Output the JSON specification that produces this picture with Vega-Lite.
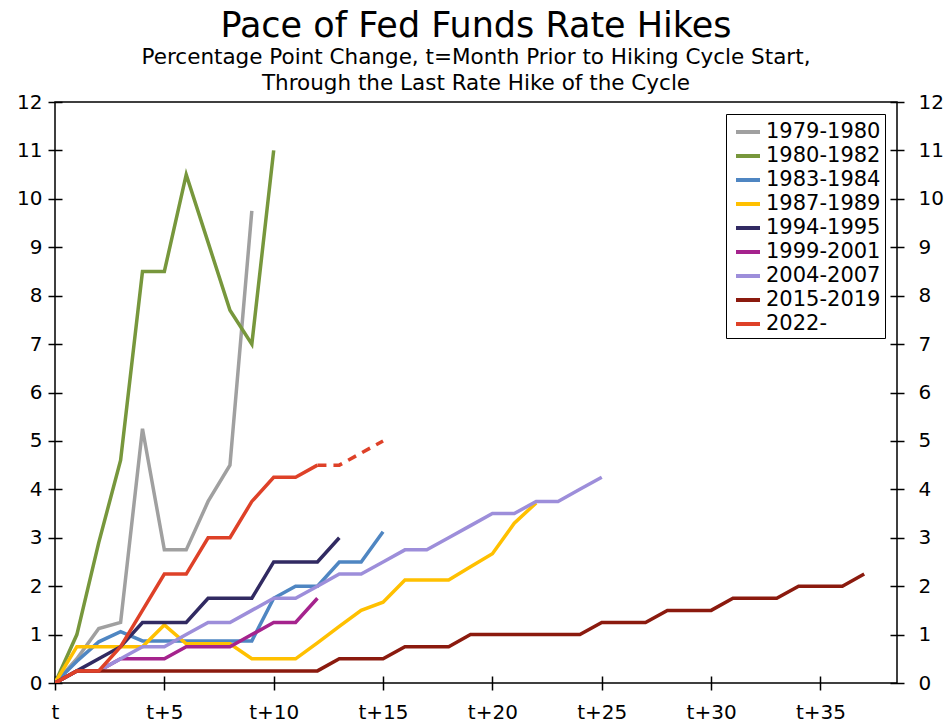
{
  "$schema": "https://vega.github.io/schema/vega-lite/v6.json",
  "width": 842,
  "height": 581,
  "autosize": "none",
  "padding": {"left": 55, "top": 102, "right": 50, "bottom": 43},
  "background": "white",
  "config": {
    "font": "DejaVu Sans",
    "view": {"stroke": "black", "strokeWidth": 1.5}
  },
  "title": {
    "text": "Pace of Fed Funds Rate Hikes",
    "subtitle": ["Percentage Point Change, t=Month Prior to Hiking Cycle Start,", "Through the Last Rate Hike of the Cycle"],
    "fontSize": 35,
    "fontWeight": "normal",
    "font": "DejaVu Sans",
    "subtitleFont": "DejaVu Sans",
    "subtitleFontSize": 21.5,
    "subtitleLineHeight": 26,
    "subtitleColor": "black",
    "subtitlePadding": 3,
    "color": "black",
    "anchor": "middle",
    "frame": "group",
    "offset": -2
  },
  "datasets": {
    "main": [
      {"s": "1979-1980", "m": 0, "v": 0}, {"s": "1979-1980", "m": 1, "v": 0.5}, {"s": "1979-1980", "m": 2, "v": 1.125}, {"s": "1979-1980", "m": 3, "v": 1.25}, {"s": "1979-1980", "m": 4, "v": 5.25}, {"s": "1979-1980", "m": 5, "v": 2.75}, {"s": "1979-1980", "m": 6, "v": 2.75}, {"s": "1979-1980", "m": 7, "v": 3.75}, {"s": "1979-1980", "m": 8, "v": 4.5}, {"s": "1979-1980", "m": 9, "v": 9.75},
      {"s": "1980-1982", "m": 0, "v": 0}, {"s": "1980-1982", "m": 1, "v": 1.0}, {"s": "1980-1982", "m": 2, "v": 2.9}, {"s": "1980-1982", "m": 3, "v": 4.6}, {"s": "1980-1982", "m": 4, "v": 8.5}, {"s": "1980-1982", "m": 5, "v": 8.5}, {"s": "1980-1982", "m": 6, "v": 10.5}, {"s": "1980-1982", "m": 7, "v": 9.1}, {"s": "1980-1982", "m": 8, "v": 7.7}, {"s": "1980-1982", "m": 9, "v": 7.0}, {"s": "1980-1982", "m": 10, "v": 11.0},
      {"s": "1983-1984", "m": 0, "v": 0}, {"s": "1983-1984", "m": 1, "v": 0.45}, {"s": "1983-1984", "m": 2, "v": 0.85}, {"s": "1983-1984", "m": 3, "v": 1.06}, {"s": "1983-1984", "m": 4, "v": 0.87}, {"s": "1983-1984", "m": 5, "v": 0.87}, {"s": "1983-1984", "m": 6, "v": 0.87}, {"s": "1983-1984", "m": 7, "v": 0.87}, {"s": "1983-1984", "m": 8, "v": 0.87}, {"s": "1983-1984", "m": 9, "v": 0.87}, {"s": "1983-1984", "m": 10, "v": 1.75}, {"s": "1983-1984", "m": 11, "v": 2.0}, {"s": "1983-1984", "m": 12, "v": 2.0}, {"s": "1983-1984", "m": 13, "v": 2.5}, {"s": "1983-1984", "m": 14, "v": 2.5}, {"s": "1983-1984", "m": 15, "v": 3.125},
      {"s": "1987-1989", "m": 0, "v": 0}, {"s": "1987-1989", "m": 1, "v": 0.75}, {"s": "1987-1989", "m": 2, "v": 0.75}, {"s": "1987-1989", "m": 3, "v": 0.75}, {"s": "1987-1989", "m": 4, "v": 0.75}, {"s": "1987-1989", "m": 5, "v": 1.2}, {"s": "1987-1989", "m": 6, "v": 0.81}, {"s": "1987-1989", "m": 7, "v": 0.81}, {"s": "1987-1989", "m": 8, "v": 0.81}, {"s": "1987-1989", "m": 9, "v": 0.5}, {"s": "1987-1989", "m": 10, "v": 0.5}, {"s": "1987-1989", "m": 11, "v": 0.5}, {"s": "1987-1989", "m": 12, "v": 0.83}, {"s": "1987-1989", "m": 13, "v": 1.17}, {"s": "1987-1989", "m": 14, "v": 1.5}, {"s": "1987-1989", "m": 15, "v": 1.67}, {"s": "1987-1989", "m": 16, "v": 2.125}, {"s": "1987-1989", "m": 17, "v": 2.125}, {"s": "1987-1989", "m": 18, "v": 2.125}, {"s": "1987-1989", "m": 19, "v": 2.4}, {"s": "1987-1989", "m": 20, "v": 2.67}, {"s": "1987-1989", "m": 21, "v": 3.3}, {"s": "1987-1989", "m": 22, "v": 3.72},
      {"s": "1994-1995", "m": 0, "v": 0}, {"s": "1994-1995", "m": 1, "v": 0.25}, {"s": "1994-1995", "m": 2, "v": 0.5}, {"s": "1994-1995", "m": 3, "v": 0.75}, {"s": "1994-1995", "m": 4, "v": 1.25}, {"s": "1994-1995", "m": 5, "v": 1.25}, {"s": "1994-1995", "m": 6, "v": 1.25}, {"s": "1994-1995", "m": 7, "v": 1.75}, {"s": "1994-1995", "m": 8, "v": 1.75}, {"s": "1994-1995", "m": 9, "v": 1.75}, {"s": "1994-1995", "m": 10, "v": 2.5}, {"s": "1994-1995", "m": 11, "v": 2.5}, {"s": "1994-1995", "m": 12, "v": 2.5}, {"s": "1994-1995", "m": 13, "v": 3.0},
      {"s": "1999-2001", "m": 0, "v": 0}, {"s": "1999-2001", "m": 1, "v": 0.25}, {"s": "1999-2001", "m": 2, "v": 0.25}, {"s": "1999-2001", "m": 3, "v": 0.5}, {"s": "1999-2001", "m": 4, "v": 0.5}, {"s": "1999-2001", "m": 5, "v": 0.5}, {"s": "1999-2001", "m": 6, "v": 0.75}, {"s": "1999-2001", "m": 7, "v": 0.75}, {"s": "1999-2001", "m": 8, "v": 0.75}, {"s": "1999-2001", "m": 9, "v": 1.0}, {"s": "1999-2001", "m": 10, "v": 1.25}, {"s": "1999-2001", "m": 11, "v": 1.25}, {"s": "1999-2001", "m": 12, "v": 1.75},
      {"s": "2004-2007", "m": 0, "v": 0}, {"s": "2004-2007", "m": 1, "v": 0.25}, {"s": "2004-2007", "m": 2, "v": 0.25}, {"s": "2004-2007", "m": 3, "v": 0.5}, {"s": "2004-2007", "m": 4, "v": 0.75}, {"s": "2004-2007", "m": 5, "v": 0.75}, {"s": "2004-2007", "m": 6, "v": 1.0}, {"s": "2004-2007", "m": 7, "v": 1.25}, {"s": "2004-2007", "m": 8, "v": 1.25}, {"s": "2004-2007", "m": 9, "v": 1.5}, {"s": "2004-2007", "m": 10, "v": 1.75}, {"s": "2004-2007", "m": 11, "v": 1.75}, {"s": "2004-2007", "m": 12, "v": 2.0}, {"s": "2004-2007", "m": 13, "v": 2.25}, {"s": "2004-2007", "m": 14, "v": 2.25}, {"s": "2004-2007", "m": 15, "v": 2.5}, {"s": "2004-2007", "m": 16, "v": 2.75}, {"s": "2004-2007", "m": 17, "v": 2.75}, {"s": "2004-2007", "m": 18, "v": 3.0}, {"s": "2004-2007", "m": 19, "v": 3.25}, {"s": "2004-2007", "m": 20, "v": 3.5}, {"s": "2004-2007", "m": 21, "v": 3.5}, {"s": "2004-2007", "m": 22, "v": 3.75}, {"s": "2004-2007", "m": 23, "v": 3.75}, {"s": "2004-2007", "m": 24, "v": 4.0}, {"s": "2004-2007", "m": 25, "v": 4.25},
      {"s": "2015-2019", "m": 0, "v": 0}, {"s": "2015-2019", "m": 1, "v": 0.25}, {"s": "2015-2019", "m": 2, "v": 0.25}, {"s": "2015-2019", "m": 3, "v": 0.25}, {"s": "2015-2019", "m": 4, "v": 0.25}, {"s": "2015-2019", "m": 5, "v": 0.25}, {"s": "2015-2019", "m": 6, "v": 0.25}, {"s": "2015-2019", "m": 7, "v": 0.25}, {"s": "2015-2019", "m": 8, "v": 0.25}, {"s": "2015-2019", "m": 9, "v": 0.25}, {"s": "2015-2019", "m": 10, "v": 0.25}, {"s": "2015-2019", "m": 11, "v": 0.25}, {"s": "2015-2019", "m": 12, "v": 0.25}, {"s": "2015-2019", "m": 13, "v": 0.5}, {"s": "2015-2019", "m": 14, "v": 0.5}, {"s": "2015-2019", "m": 15, "v": 0.5}, {"s": "2015-2019", "m": 16, "v": 0.75}, {"s": "2015-2019", "m": 17, "v": 0.75}, {"s": "2015-2019", "m": 18, "v": 0.75}, {"s": "2015-2019", "m": 19, "v": 1.0}, {"s": "2015-2019", "m": 20, "v": 1.0}, {"s": "2015-2019", "m": 21, "v": 1.0}, {"s": "2015-2019", "m": 22, "v": 1.0}, {"s": "2015-2019", "m": 23, "v": 1.0}, {"s": "2015-2019", "m": 24, "v": 1.0}, {"s": "2015-2019", "m": 25, "v": 1.25}, {"s": "2015-2019", "m": 26, "v": 1.25}, {"s": "2015-2019", "m": 27, "v": 1.25}, {"s": "2015-2019", "m": 28, "v": 1.5}, {"s": "2015-2019", "m": 29, "v": 1.5}, {"s": "2015-2019", "m": 30, "v": 1.5}, {"s": "2015-2019", "m": 31, "v": 1.75}, {"s": "2015-2019", "m": 32, "v": 1.75}, {"s": "2015-2019", "m": 33, "v": 1.75}, {"s": "2015-2019", "m": 34, "v": 2.0}, {"s": "2015-2019", "m": 35, "v": 2.0}, {"s": "2015-2019", "m": 36, "v": 2.0}, {"s": "2015-2019", "m": 37, "v": 2.25},
      {"s": "2022-", "m": 0, "v": 0}, {"s": "2022-", "m": 1, "v": 0.25}, {"s": "2022-", "m": 2, "v": 0.25}, {"s": "2022-", "m": 3, "v": 0.75}, {"s": "2022-", "m": 4, "v": 1.5}, {"s": "2022-", "m": 5, "v": 2.25}, {"s": "2022-", "m": 6, "v": 2.25}, {"s": "2022-", "m": 7, "v": 3.0}, {"s": "2022-", "m": 8, "v": 3.0}, {"s": "2022-", "m": 9, "v": 3.75}, {"s": "2022-", "m": 10, "v": 4.25}, {"s": "2022-", "m": 11, "v": 4.25}, {"s": "2022-", "m": 12, "v": 4.5}
    ],
    "proj": [
      {"s": "2022- projected", "m": 12, "v": 4.5}, {"s": "2022- projected", "m": 13, "v": 4.5}, {"s": "2022- projected", "m": 14, "v": 4.75}, {"s": "2022- projected", "m": 15, "v": 5.0}
    ]
  },
  "layer": [
    {
      "data": {"name": "main"},
      "mark": {"type": "line", "strokeWidth": 3.5, "clip": true},
      "encoding": {
        "x": {
          "field": "m", "type": "quantitative",
          "scale": {"domain": [0, 38.5], "nice": false, "zero": false},
          "axis": {"orient": "bottom", "title": null, "values": [0, 5, 10, 15, 20, 25, 30, 35], "labelExpr": "datum.value == 0 ? 't' : 't+' + datum.value", "domain": false, "grid": false, "ticks": true, "tickSize": 14, "offset": -7, "tickColor": "black", "tickWidth": 1.5, "labelFontSize": 20, "labelColor": "black", "labelPadding": 12, "labelFlush": false, "labelOverlap": false}
        },
        "y": {
          "field": "v", "type": "quantitative",
          "scale": {"domain": [0, 12], "nice": false},
          "axis": {"orient": "left", "title": null, "values": [0, 1, 2, 3, 4, 5, 6, 7, 8, 9, 10, 11, 12], "domain": false, "grid": false, "tickSize": 14, "offset": -7, "tickColor": "black", "tickWidth": 1.5, "labelFontSize": 20, "labelColor": "black", "labelPadding": 6, "labelFlush": false, "labelOverlap": false}
        },
        "color": {
          "field": "s", "type": "nominal",
          "scale": {
            "domain": ["1979-1980", "1980-1982", "1983-1984", "1987-1989", "1994-1995", "1999-2001", "2004-2007", "2015-2019", "2022-"],
            "range": ["#A0A0A0", "#77973C", "#4F86C2", "#FFC000", "#312A62", "#A5238D", "#9D8EDA", "#8B1A0E", "#DE4128"]
          },
          "legend": {"orient": "top-right", "offset": 12, "title": null, "labelFontSize": 21, "labelColor": "black", "symbolType": "stroke", "symbolSize": 576, "symbolStrokeWidth": 4, "strokeColor": "black", "fillColor": "white", "padding": 4, "symbolOffset": 4, "rowPadding": 0, "labelOffset": 4, "labelLimit": 300}
        }
      }
    },
    {
      "data": {"name": "proj"},
      "mark": {"type": "line", "strokeWidth": 3.5, "strokeDash": [9, 7], "color": "#DE4128", "clip": true},
      "encoding": {
        "x": {
          "field": "m", "type": "quantitative",
          "axis": {"orient": "bottom", "title": null, "values": [0, 5, 10, 15, 20, 25, 30, 35], "labelExpr": "datum.value == 0 ? 't' : 't+' + datum.value", "domain": false, "grid": false, "ticks": true, "tickSize": 14, "offset": -7, "tickColor": "black", "tickWidth": 1.5, "labelFontSize": 20, "labelColor": "black", "labelPadding": 12, "labelFlush": false, "labelOverlap": false}
        },
        "y": {
          "field": "v", "type": "quantitative",
          "axis": {"orient": "right", "title": null, "values": [0, 1, 2, 3, 4, 5, 6, 7, 8, 9, 10, 11, 12], "domain": false, "grid": false, "tickSize": 14, "offset": -7, "tickColor": "black", "tickWidth": 1.5, "labelFontSize": 20, "labelColor": "black", "labelPadding": 14, "labelFlush": false, "labelOverlap": false}
        }
      }
    }
  ],
  "resolve": {"axis": {"y": "independent"}}
}
